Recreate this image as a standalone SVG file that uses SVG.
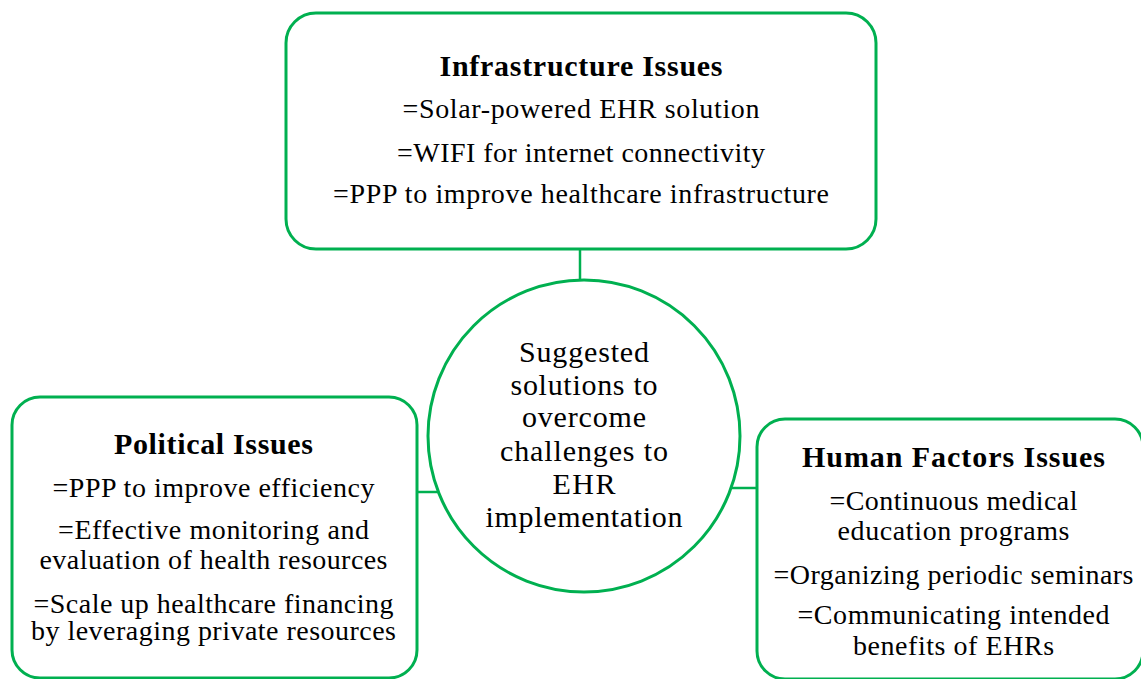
<svg xmlns="http://www.w3.org/2000/svg" width="1141" height="679" viewBox="0 0 1141 679">
<style>
.box{fill:#fff;stroke:#00b050;stroke-width:3}
.con{stroke:#00b050;stroke-width:2.5;fill:none}
</style>
<rect width="1141" height="679" fill="#fff"/>
<g id="connectors">
<line class="con" x1="580" y1="250" x2="580" y2="282"/>
<line class="con" x1="416" y1="492" x2="438" y2="492"/>
<line class="con" x1="732" y1="488" x2="758" y2="488"/>
</g>
<g id="infrastructure" font-family="Liberation Serif" text-anchor="middle" fill="#000">
<rect class="box" x="286" y="13" width="590" height="236" rx="30"/>
<text x="581" y="76" font-size="30" font-weight="bold" textLength="283" lengthAdjust="spacing">Infrastructure Issues</text>
<text transform="translate(581 118) scale(0.9333)" font-size="30" textLength="382.5" lengthAdjust="spacing">=Solar-powered EHR solution</text>
<text transform="translate(581 162) scale(0.9333)" font-size="30" textLength="394.3" lengthAdjust="spacing">=WIFI for internet connectivity</text>
<text transform="translate(581 203) scale(0.9333)" font-size="30" textLength="531.4" lengthAdjust="spacing">=PPP to improve healthcare infrastructure</text>
</g>
<g id="center" font-family="Liberation Serif" text-anchor="middle" fill="#000" font-size="30">
<circle class="box" cx="584" cy="436" r="156"/>
<text x="584" y="362" textLength="130" lengthAdjust="spacing">Suggested</text>
<text x="584" y="395" textLength="147" lengthAdjust="spacing">solutions to</text>
<text x="584" y="427" textLength="124" lengthAdjust="spacing">overcome</text>
<text x="584" y="461" textLength="168" lengthAdjust="spacing">challenges to</text>
<text x="584" y="494" textLength="63" lengthAdjust="spacing">EHR</text>
<text x="584" y="527" textLength="197" lengthAdjust="spacing">implementation</text>
</g>
<g id="political" font-family="Liberation Serif" text-anchor="middle" fill="#000" font-size="30">
<rect class="box" x="12" y="397" width="405" height="281" rx="28"/>
<text x="213.5" y="454" font-weight="bold" textLength="199" lengthAdjust="spacing">Political Issues</text>
<text transform="translate(213.5 497) scale(0.9333)" textLength="345" lengthAdjust="spacing">=PPP to improve efficiency</text>
<text transform="translate(213.5 539) scale(0.9333)" textLength="333.2" lengthAdjust="spacing">=Effective monitoring and</text>
<text transform="translate(213.5 569) scale(0.9333)" textLength="372.9" lengthAdjust="spacing">evaluation of health resources</text>
<text transform="translate(213.5 613) scale(0.9333)" textLength="385.7" lengthAdjust="spacing">=Scale up healthcare financing</text>
<text transform="translate(213.5 640) scale(0.9333)" textLength="391.1" lengthAdjust="spacing">by leveraging private resources</text>
</g>
<g id="human" font-family="Liberation Serif" text-anchor="middle" fill="#000" font-size="30">
<rect class="box" x="757" y="419" width="386" height="260" rx="28"/>
<text x="953.5" y="467" font-weight="bold" textLength="303" lengthAdjust="spacing">Human Factors Issues</text>
<text transform="translate(953.5 510) scale(0.9333)" textLength="265.7" lengthAdjust="spacing">=Continuous medical</text>
<text transform="translate(953.5 540) scale(0.9333)" textLength="248.6" lengthAdjust="spacing">education programs</text>
<text transform="translate(953.5 584) scale(0.9333)" textLength="385.7" lengthAdjust="spacing">=Organizing periodic seminars</text>
<text transform="translate(953.5 624) scale(0.9333)" textLength="334.3" lengthAdjust="spacing">=Communicating intended</text>
<text transform="translate(953.5 655) scale(0.9333)" textLength="215.4" lengthAdjust="spacing">benefits of EHRs</text>
</g>
</svg>
